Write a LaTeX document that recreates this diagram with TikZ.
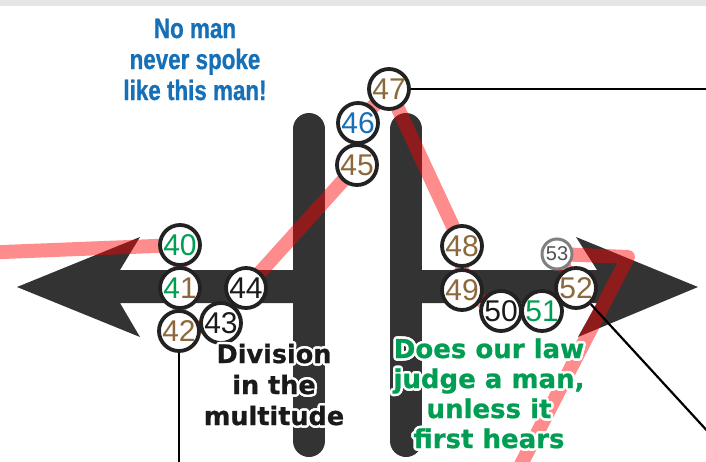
\documentclass[tikz,border=0pt]{standalone}
\usepackage{fontspec}
\setmainfont{Liberation Sans}
\newfontfamily\narrowsans[FakeStretch=0.8,BoldFeatures={FakeBold=0.8}]{Liberation Sans}
\newfontfamily\widesans[BoldFeatures={FakeBold=0.8}]{DejaVu Sans}
\usepackage[copies]{contour}
\contourlength{2.5pt}
\definecolor{barc}{HTML}{333333}
\definecolor{ringc}{HTML}{222222}
\definecolor{ink}{HTML}{1A1A1A}
\definecolor{blu}{HTML}{1670B8}
\definecolor{grn}{HTML}{009E52}
\definecolor{brn}{HTML}{8C693C}
\definecolor{greyring}{HTML}{808080}
\definecolor{greytxt}{HTML}{505050}
\definecolor{topc}{HTML}{E6E6E6}
\pgfdeclarelayer{back}
\pgfsetlayers{back,main}
\tikzset{
  num/.style={circle,draw=ringc,line width=3.8pt,fill=white,minimum size=40pt,
    inner sep=0pt,font=\fontsize{30}{30}\selectfont},
  smallnum/.style={num,draw=greyring,line width=3pt,minimum size=30pt,
    font=\fontsize{20}{20}\selectfont,text=greytxt},
  redline/.style={line width=14pt,draw=red,draw opacity=0.45,line join=round},
  leader/.style={line width=2.2pt,draw=black},
  bar/.style={line width=32pt,draw=barc,line cap=round},
  caption/.style={align=center,anchor=base},
  bluetxt/.style={caption,text=blu,font=\narrowsans\bfseries\fontsize{28}{31}\selectfont},
  blacktxt/.style={caption,text=ink,font=\widesans\bfseries\fontsize{25.5}{31}\selectfont},
  greentxt/.style={caption,text=grn,font=\widesans\bfseries\fontsize{26}{30}\selectfont}
}
\begin{document}
\begin{tikzpicture}[x=1pt,y=-1pt]
  \useasboundingbox (0,0) rectangle (706,461);
  \clip (0,0) rectangle (706,461);

  \node[num,text=grn] (n40) at (180,245) {40};
  \node[num] (n41) at (180,288) {\textcolor{grn}{4}\textcolor{brn}{1}};
  \node[num,text=ink] (n43) at (221,323) {43};
  \node[num,text=brn] (n42) at (179,331) {42};
  \node[num,text=ink] (n44) at (246,288) {44};
  \node[num,text=brn] (n45) at (357,165) {45};
  \node[num,text=blu] (n46) at (358,123) {46};
  \node[num,text=brn] (n47) at (389,89) {47};
  \node[num,text=brn] (n48) at (462,246) {48};
  \node[num,text=ink] (n50) at (501,311) {50};
  \node[num,text=brn] (n49) at (462,290) {49};
  \node[num,text=grn] (n51) at (542,311) {51};
  \node[num,text=brn] (n52) at (576,288) {52};
  \node[smallnum] (n53) at (557,254) {53};

  \coordinate (rin) at (-10,252.5);
  \coordinate (rturn) at (628,257);
  \coordinate (rout) at (513,480);
  \coordinate (e47) at (720,89);
  \coordinate (e42) at (179,480);
  \coordinate (e52) at (722,447);

  \begin{pgfonlayer}{back}
    \fill[topc] (0,0) rectangle (706,5.5);
    \draw[bar] (309,129) -- (309,441);
    \draw[bar] (406,129) -- (406,441);
    \fill[barc] (309,270) -- (120,270) -- (140,237) -- (17,287) -- (140,337)
      -- (120,303) -- (309,303) -- cycle;
    \fill[barc] (406,270) -- (597,270) -- (576,237) -- (698,287) -- (578,337)
      -- (597,303) -- (406,303) -- cycle;
    \draw[redline] (rin) -- (n40.center) -- (n41.center) -- (n42.center)
      -- (n43.center) -- (n44.center) -- (n45.center) -- (n46.center)
      -- (n47.center) -- (n48.center) -- (n49.center) -- (n50.center)
      -- (n51.center) -- (n52.center) -- (n53.center) -- (rturn) -- (rout);
    \draw[leader] (n47) -- (e47);
    \draw[leader] (n42) -- (e42);
    \draw[leader] (n52) -- (e52);
  \end{pgfonlayer}

  \node[bluetxt] (spoke) at (195,100) {No man\\never spoke\\like this man!};
  \node[blacktxt] (division) at (274,425)
    {\contour{white}{Division}\\\contour{white}{in the}\\\contour{white}{multitude}};
  \node[greentxt] (hears) at (489,448)
    {\contour{white}{Does our law}\\\contour{white}{judge a man,}\\
     \contour{white}{unless it}\\\contour{white}{first hears}};
\end{tikzpicture}
\end{document}
